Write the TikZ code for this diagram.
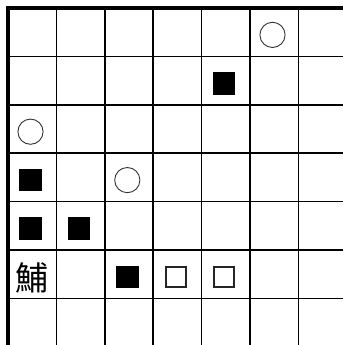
\documentclass[tikz,border=0pt]{standalone}
\usepackage{fontspec}
\newfontfamily\cjkfont{Noto Sans CJK JP}
\tikzset{
  gridline/.style={line width=1.7pt, black},
  borderline/.style={line width=4pt, black},
  circmark/.style={circle, draw=black!80, line width=0.9pt, minimum size=25.2pt, inner sep=0pt},
  fillsq/.style={rectangle, fill=black, minimum size=22.5pt, inner sep=0pt},
  opensq/.style={rectangle, draw=black!85, line width=1.8pt, minimum size=20pt, inner sep=0pt},
  glyph/.style={inner sep=0pt, font=\cjkfont\fontsize{33pt}{33pt}\selectfont}
}
\begin{document}
\begin{tikzpicture}[x=1pt,y=-1pt]
\fill[white] (0,0) rectangle (343,345);
\useasboundingbox (0,0) rectangle (343,345);
% thin grid lines
\foreach \k in {1,...,6}{
  \draw[gridline] ({8+48.4*\k},8) -- ({8+48.4*\k},345);
  \draw[gridline] (8,{8+48.4*\k}) -- (343,{8+48.4*\k});
}
% thick border top and left
\draw[borderline] (8,345) -- (8,8) -- (343,8);
% marks
\node[circmark] (c05) at (272.5,34.9) {};
\node[fillsq] (s14) at (224.1,83.3) {};
\node[circmark] (c20) at (30.5,131.7) {};
\node[fillsq] (s30) at (30.5,180.1) {};
\node[circmark] (c32) at (127.3,180.1) {};
\node[fillsq] (s40) at (30.5,228.5) {};
\node[fillsq] (s41) at (78.9,228.5) {};
\node[glyph] (g50) at (31.5,277.5) {鯆};
\node[fillsq] (s52) at (127.3,276.9) {};
\node[opensq] (o53) at (175.7,276.9) {};
\node[opensq] (o54) at (224.1,276.9) {};
\end{tikzpicture}
\end{document}
